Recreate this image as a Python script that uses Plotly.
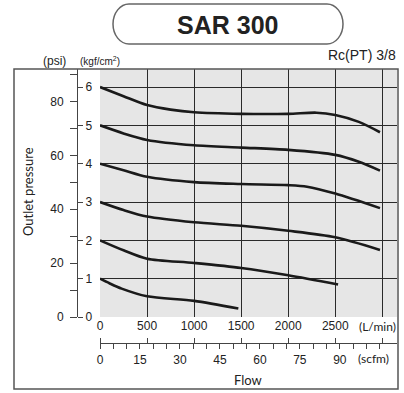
import plotly.graph_objects as go

# ---------------- data ----------------
flow_6 = [0, 250, 500, 750, 1000, 1500, 2000, 2300, 2500, 2750, 2975]
pres_6 = [6.0, 5.76, 5.53, 5.41, 5.34, 5.30, 5.30, 5.33, 5.27, 5.09, 4.82]

flow_5 = [0, 250, 500, 1000, 1500, 2000, 2500, 2750, 2975]
pres_5 = [5.0, 4.79, 4.62, 4.48, 4.42, 4.36, 4.23, 4.05, 3.82]

flow_4 = [0, 250, 500, 1000, 1500, 2000, 2200, 2500, 2975]
pres_4 = [4.0, 3.83, 3.66, 3.52, 3.47, 3.44, 3.40, 3.22, 2.84]

flow_3 = [0, 250, 500, 1000, 1500, 2000, 2500, 2975]
pres_3 = [3.0, 2.79, 2.62, 2.47, 2.38, 2.25, 2.08, 1.75]

flow_2 = [0, 250, 500, 1000, 1500, 2000, 2530]
pres_2 = [2.0, 1.74, 1.52, 1.41, 1.28, 1.09, 0.85]

flow_1 = [0, 100, 230, 500, 1000, 1470]
pres_1 = [1.0, 0.88, 0.74, 0.54, 0.42, 0.22]

curves = [(flow_6, pres_6), (flow_5, pres_5), (flow_4, pres_4),
          (flow_3, pres_3), (flow_2, pres_2), (flow_1, pres_1)]

lmin_ticks = [0, 500, 1000, 1500, 2000, 2500, 3000]
lmin_labels = ["0", "500", "1000", "1500", "2000", "2500", " "]
kgf_ticks = [0, 1, 2, 3, 4, 5, 6]
psi_ticks = [0, 10, 20, 30, 40, 50, 60, 70, 80, 90]
psi_labels = ["0", " ", "20", " ", "40", " ", "60", " ", "80", " "]
scfm_ticks = list(range(0, 110, 5))
scfm_labels = [str(v) if (v % 15 == 0 and v <= 90) else " " for v in scfm_ticks]

X_MAX = 3156          # L/min
Y_MAX = 6.47          # kgf/cm2
PSI_PER_KGF = 14.223
LMIN_PER_SCFM = 28.317

# ---------------- layout helpers ----------------
W, H = 404, 393
def fx(px):
    return px / W
def fy(py):
    return 1 - py / H

NUM_FONT = "Liberation Sans, Arial, sans-serif"
LBL_FONT = "Lato, Open Sans, sans-serif"
GRID = "#2a2a2a"

fig = go.Figure()
for fl, pr in curves:
    fig.add_trace(go.Scatter(x=fl, y=pr, mode="lines",
                             line=dict(color="#1a1a1a", width=2.6, shape="spline", smoothing=0.8),
                             hoverinfo="skip", showlegend=False, xaxis="x", yaxis="y"))
# empty traces so the extra axes are rendered
fig.add_trace(go.Scatter(x=[None], y=[None], xaxis="x", yaxis="y2", showlegend=False, hoverinfo="skip"))
fig.add_trace(go.Scatter(x=[None], y=[None], xaxis="x2", yaxis="y", showlegend=False, hoverinfo="skip"))
fig.add_trace(go.Scatter(x=[None], y=[None], xaxis="x3", yaxis="y", showlegend=False, hoverinfo="skip"))

fig.update_layout(
    width=W, height=H, autosize=False,
    margin=dict(l=0, r=0, t=0, b=0, pad=0),
    paper_bgcolor="white", plot_bgcolor="#e6e6e6",
    showlegend=False,
    xaxis=dict(domain=[fx(100), fx(397)], range=[0, X_MAX], anchor="y",
               tickmode="array", tickvals=lmin_ticks, ticktext=lmin_labels,
               showgrid=True, gridcolor=GRID, gridwidth=1, zeroline=False,
               showline=False, ticks="", automargin=False,
               tickfont=dict(family=NUM_FONT, size=12, color="#222")),
    yaxis=dict(domain=[fy(317), fy(69)], range=[0, Y_MAX], anchor="free",
               position=fx(77), side="right",
               tickmode="array", tickvals=kgf_ticks,
               showgrid=True, gridcolor=GRID, gridwidth=1, zeroline=False,
               showline=False, ticks="outside", ticklen=5, tickcolor="#444",
               automargin=False,
               tickfont=dict(family=NUM_FONT, size=12, color="#222")),
    yaxis2=dict(overlaying="y", range=[0, Y_MAX * PSI_PER_KGF], anchor="free",
                position=fx(77), side="left",
                tickmode="array", tickvals=psi_ticks, ticktext=psi_labels,
                showgrid=False, zeroline=False, showline=True, linecolor="#444", linewidth=1.2,
                ticks="outside", ticklen=7, tickcolor="#444", automargin=False,
                ticklabelstandoff=4,
                tickfont=dict(family=NUM_FONT, size=12, color="#222")),
    xaxis2=dict(overlaying="x", range=[0, X_MAX / LMIN_PER_SCFM], anchor="free",
                position=fy(343), side="bottom",
                tickmode="array", tickvals=scfm_ticks, ticktext=scfm_labels,
                showgrid=False, zeroline=False, showline=True, linecolor="#444", linewidth=1.2,
                ticks="outside", ticklen=5, tickcolor="#444", automargin=False,
                tickfont=dict(family=NUM_FONT, size=12, color="#222")),
    xaxis3=dict(overlaying="x", range=[0, X_MAX], anchor="free",
                position=fy(343), side="top",
                tickmode="array", tickvals=lmin_ticks, showticklabels=False,
                showgrid=False, zeroline=False, showline=False,
                ticks="outside", ticklen=5, tickcolor="#444", automargin=False),
)

# outer frame
fig.add_shape(type="rect", xref="paper", yref="paper",
              x0=fx(14), x1=fx(398), y0=fy(389), y1=fy(69),
              line=dict(color="#555", width=1.5), layer="above")

# title pill
x0, x1, top, bot, r = 113, 343, 4, 44, 16
mid = (top + bot) / 2
ry = (bot - top) / 2
k = 0.552
def P(px, py):
    return f"{fx(px):.5f},{fy(py):.5f}"
path = (f"M {P(x0 + r, top)} L {P(x1 - r, top)} "
        f"C {P(x1 - r + k * r, top)} {P(x1, mid - k * ry)} {P(x1, mid)} "
        f"C {P(x1, mid + k * ry)} {P(x1 - r + k * r, bot)} {P(x1 - r, bot)} "
        f"L {P(x0 + r, bot)} "
        f"C {P(x0 + r - k * r, bot)} {P(x0, mid + k * ry)} {P(x0, mid)} "
        f"C {P(x0, mid - k * ry)} {P(x0 + r - k * r, top)} {P(x0 + r, top)} Z")
fig.add_shape(type="path", xref="paper", yref="paper", path=path,
              line=dict(color="#666", width=1.5), fillcolor="white")

def ann(text, px, py, size, family=NUM_FONT, xanchor="center", angle=0, bold=False):
    if bold:
        text = f"<b>{text}</b>"
    fig.add_annotation(text=text, xref="paper", yref="paper", x=fx(px), y=fy(py),
                       xanchor=xanchor, yanchor="middle", showarrow=False,
                       textangle=angle, font=dict(family=family, size=size, color="#222"))

ann("SAR 300", 227, 25, 25, bold=True)
ann("Rc(PT) 3/8", 398, 55, 14, xanchor="right")
ann("(psi)", 54, 61, 12)
ann("(kgf/cm<sup>2</sup>)", 100, 61, 10)
ann("Outlet pressure", 28, 192, 13, family=LBL_FONT, angle=-90)
ann("(L/min)", 398, 326, 12, family=LBL_FONT, xanchor="right")
ann("(scfm)", 373, 358, 12, family=LBL_FONT)
ann("Flow", 248, 380, 13, family=LBL_FONT)

fig.write_html("out.html", config={"displayModeBar": False, "staticPlot": True},
               post_script="document.body.style.margin='0px';")
